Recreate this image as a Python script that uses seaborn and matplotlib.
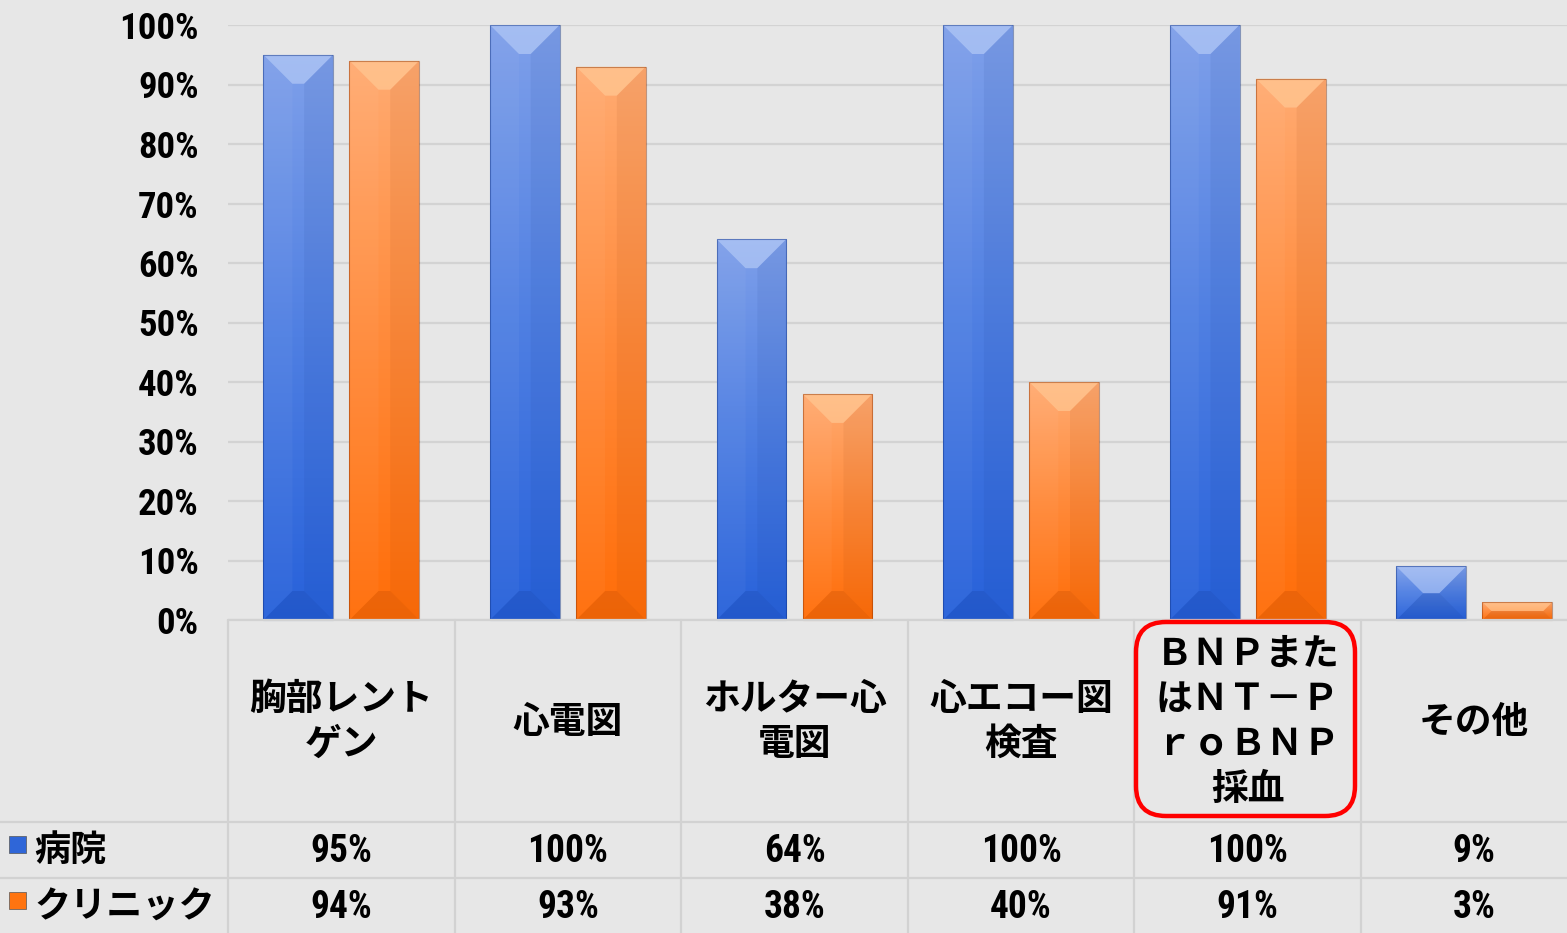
import numpy as np
import pandas as pd
import matplotlib
matplotlib.use("Agg")
import matplotlib.pyplot as plt
import seaborn as sns
from matplotlib import font_manager as fm
from matplotlib.patches import Polygon, Rectangle, FancyBboxPatch
from matplotlib.lines import Line2D
from matplotlib.colors import LinearSegmentedColormap
import matplotlib.transforms as mtransforms

# ---------------- data ----------------
categories = ["胸部レント\nゲン", "心電図", "ホルター心\n電図", "心エコー図\n検査",
              "ＢＮＰまた\nはＮＴ－Ｐ\nｒｏＢＮＰ\n採血", "その他"]
series_names = ["病院", "クリニック"]
hospital = [95, 100, 64, 100, 100, 9]
clinic = [94, 93, 38, 40, 91, 3]
yticks = [0, 10, 20, 30, 40, 50, 60, 70, 80, 90, 100]
ytick_labels = [f"{t}%" for t in yticks]

# ---------------- style ----------------
sns.set_theme(style="white")
plt.rcParams["font.family"] = ["Noto Sans CJK JP", "DejaVu Sans"]
names = {f.name for f in fm.fontManager.ttflist}
num_font = next((n for n in ["Liberation Sans Narrow", "Roboto Condensed", "Liberation Sans"]
                 if n in names), "DejaVu Sans")
NUMFAM = [num_font, "Noto Sans CJK JP"]

BG = "#e7e7e7"
GRID = "#d3d3d3"
BLUE = "#2f66d8"
ORANGE = "#ff7410"

W, H = 1567, 933
fig = plt.figure(figsize=(W / 100, H / 100), dpi=100)
fig.patch.set_facecolor(BG)

def py(y):
    return 1 - y / H

CAT_W = 226.6
ax = fig.add_axes([228 / W, py(620), 6 * CAT_W / W, 595 / H])
ax.set_facecolor(BG)

df = pd.DataFrame({
    "cat": categories * 2,
    "series": [series_names[0]] * len(categories) + [series_names[1]] * len(categories),
    "val": hospital + clinic,
})
sns.barplot(data=df, x="cat", y="val", hue="series", hue_order=series_names,
            palette=[BLUE, ORANGE], width=0.76, gap=0.19, legend=False, ax=ax,
            saturation=1, edgecolor="none", zorder=3)

ax.set_xlim(-0.5, len(categories) - 0.5)
ax.set_ylim(0, 100)
ax.set_yticks(yticks)
ax.set_yticklabels(ytick_labels, fontsize=26.5, fontweight="bold", family=NUMFAM)
ax.set_xticks([])
ax.set_xlabel("")
ax.set_ylabel("")
ax.tick_params(axis="y", length=0, pad=21, colors="black")
ax.yaxis.grid(True, color=GRID, lw=1.6)
ax.set_axisbelow(True)
for s in ax.spines.values():
    s.set_visible(False)

# ---------------- bevel shading for bars ----------------
cmaps = {
    "b": LinearSegmentedColormap.from_list("bl", ["#7fa0ea", "#4f7fe2", "#2761da"]),
    "o": LinearSegmentedColormap.from_list("or", ["#ffab72", "#ff8a3a", "#ff6d08"]),
}
grad = np.linspace(0, 1, 256).reshape(-1, 1)
ident = mtransforms.IdentityTransform()
bars = [p for p in ax.patches if p.get_height() > 0]
for p in bars:
    x0, w, h = p.get_x(), p.get_width(), p.get_height()
    fc = p.get_facecolor()
    key = "o" if fc[0] > 0.8 else "b"
    im = ax.imshow(grad, extent=[x0, x0 + w, 0, h], aspect="auto", cmap=cmaps[key],
                   origin="upper", zorder=3.1, interpolation="bilinear")
    im.set_clip_path(p)
    (X0, Y0) = ax.transData.transform((x0, 0))
    (X1, Y1) = ax.transData.transform((x0 + w, h))
    b = min(29, (X1 - X0) / 2 - 4, (Y1 - Y0) / 2)
    light = "#c4d6fa" if key == "b" else "#ffd2a0"
    dark = "#0d2f80" if key == "b" else "#8a3000"
    polys = [
        ([(X0, Y1), (X1, Y1), (X1 - b, Y1 - b), (X0 + b, Y1 - b)], light, 0.55),
        ([(X1, Y1), (X1, Y0), (X1 - b, Y0 + b), (X1 - b, Y1 - b)], dark, 0.07),
        ([(X0, Y0), (X1, Y0), (X1 - b, Y0 + b), (X0 + b, Y0 + b)], dark, 0.16),
        ([(X0, Y1), (X0, Y0), (X0 + b, Y0 + b), (X0 + b, Y1 - b)], "white", 0.04),
    ]
    for pts, col, a in polys:
        ax.add_patch(Polygon(pts, closed=True, transform=ident, facecolor=col,
                             edgecolor="none", alpha=a, zorder=3.2, clip_on=False))
    ax.add_patch(Rectangle((X0, Y0), X1 - X0, Y1 - Y0, transform=ident, fill=False,
                           edgecolor=dark, alpha=0.45, lw=0.8, zorder=3.3, clip_on=False))

# ---------------- data table ----------------
tax = fig.add_axes([228 / W, 0, 6 * CAT_W / W, 313 / H])
tax.set_xlim(-0.5, len(categories) - 0.5)
tax.set_ylim(313, 0)
tax.axis("off")
LINE = "#d2d2d2"
for k in range(len(categories)):
    tax.plot([k - 0.5, k - 0.5], [0, 313], color=LINE, lw=1.6, clip_on=False)
tax.plot([-0.5, len(categories) - 0.5], [0, 0], color=LINE, lw=1.6, clip_on=False)
for yy in (822, 878):
    fig.add_artist(Line2D([0, 1], [py(yy), py(yy)], transform=fig.transFigure,
                          color=LINE, lw=1.6))

for i, cat in enumerate(categories):
    tax.text(i, 102, cat, ha="center", va="center", fontsize=26.5, fontweight="bold",
             linespacing=1.28, multialignment="center", color="black")
    tax.text(i, 231, f"{hospital[i]}%", ha="center", va="center", fontsize=27,
             fontweight="bold", family=NUMFAM, color="black")
    tax.text(i, 287, f"{clinic[i]}%", ha="center", va="center", fontsize=27,
             fontweight="bold", family=NUMFAM, color="black")

# row labels with legend keys
for name, yc, col in [(series_names[0], 851, BLUE), (series_names[1], 907, ORANGE)]:
    fig.add_artist(Rectangle((9, H - (yc + 2)), 17, 17, transform=ident,
                             facecolor=col, edgecolor="#555555", lw=0.5))
    fig.text(34 / W, py(yc), name, ha="left", va="center", fontsize=26,
             fontweight="bold", color="black")

# red highlight box
fig.add_artist(FancyBboxPatch((1136, H - 816), 219, 194,
                              boxstyle="round,pad=0,rounding_size=30",
                              transform=ident, fill=False, edgecolor="#ff0000", lw=3.2))

fig.savefig("out.png", dpi=100, facecolor=BG)
